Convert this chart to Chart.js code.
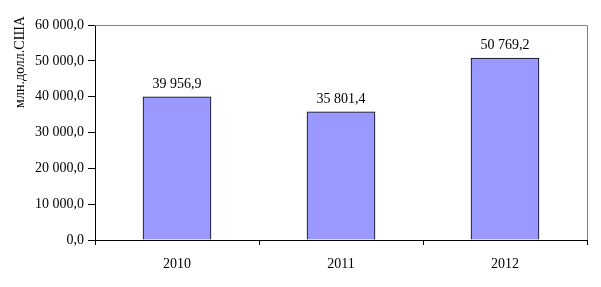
<!DOCTYPE html>
<html>
<head>
<meta charset="utf-8">
<script src="https://cdn.jsdelivr.net/npm/chart.js@4"></script>
<style>
  body { margin: 0; background: #fff; }
  #wrap { width: 601px; height: 287px; }
</style>
</head>
<body>
<div id="wrap"><canvas id="chart" width="601" height="287"></canvas></div>
<script>
const years = ["2010", "2011", "2012"];
const values = [39956.9, 35801.4, 50769.2];
const yTitle = "млн.долл.США";

const FONT = "'Liberation Serif', 'Times New Roman', serif";

// 39956.9 -> "39 956,9"
function fmt(v) {
  const parts = v.toFixed(1).split(".");
  const int = parts[0].replace(/\B(?=(\d{3})+(?!\d))/g, " ");
  return int + "," + parts[1];
}

const extras = {
  id: "extras",
  beforeDatasetsDraw(chart) {
    const { ctx, chartArea: a } = chart;
    ctx.save();
    ctx.strokeStyle = "#808080";
    ctx.lineWidth = 1;
    ctx.beginPath();
    ctx.moveTo(a.left, Math.round(a.top) + 0.5);
    ctx.lineTo(Math.round(a.right) + 0.5, Math.round(a.top) + 0.5);
    ctx.lineTo(Math.round(a.right) + 0.5, a.bottom);
    ctx.stroke();
    ctx.restore();
  },
  afterDatasetsDraw(chart) {
    const { ctx } = chart;
    ctx.save();
    ctx.font = "14px " + FONT;
    ctx.fillStyle = "#000";
    ctx.textAlign = "center";
    ctx.textBaseline = "alphabetic";
    chart.getDatasetMeta(0).data.forEach((bar, i) => {
      ctx.fillText(fmt(values[i]), bar.x, bar.y - 9);
    });
    // rotated axis title
    ctx.translate(20, 62);
    ctx.rotate(-Math.PI / 2);
    ctx.textBaseline = "middle";
    ctx.fillText(yTitle, 0, 0);
    ctx.restore();
  }
};

new Chart(document.getElementById("chart"), {
  type: "bar",
  data: {
    labels: years,
    datasets: [{
      data: values,
      backgroundColor: "#9999FF",
      borderColor: "#000",
      borderWidth: 1,
      barThickness: 68
    }]
  },
  options: {
    responsive: false,
    animation: false,
    layout: { padding: { top: 25, right: 14, bottom: 0, left: 0 } },
    plugins: { legend: { display: false }, tooltip: { enabled: false } },
    scales: {
      x: {
        afterFit(s) { s.height = 47; },
        border: { color: "#000", width: 1 },
        grid: { offset: true, drawOnChartArea: false, tickLength: 5, color: "#000" },
        ticks: { color: "#000", padding: 11, font: { family: FONT, size: 14 } }
      },
      y: {
        min: 0,
        max: 60000,
        afterFit(s) { s.width = 95; },
        border: { color: "#000", width: 1 },
        grid: { drawOnChartArea: false, tickLength: 7, color: "#000" },
        ticks: {
          stepSize: 10000,
          color: "#000",
          padding: 4,
          font: { family: FONT, size: 14 },
          callback: (v) => fmt(v)
        }
      }
    }
  },
  plugins: [extras]
});
</script>
</body>
</html>
